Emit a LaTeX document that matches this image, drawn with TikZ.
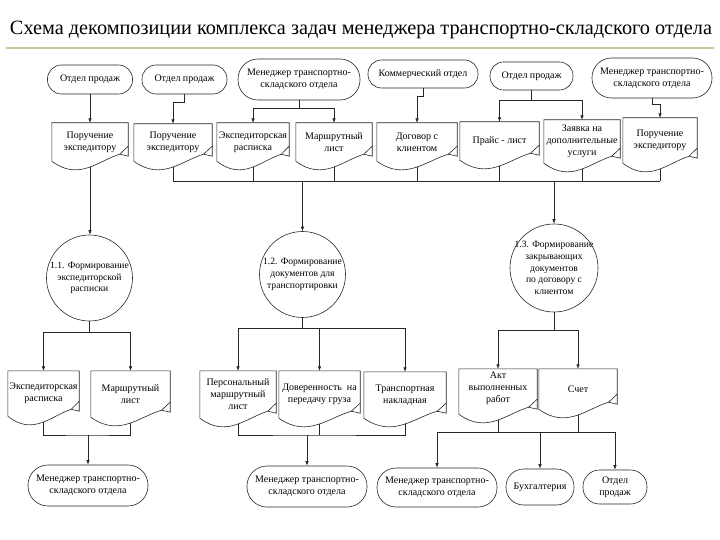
\documentclass[tikz,border=0pt]{standalone}
\usepackage{fontspec}
\usepackage{graphicx}
\setmainfont{Liberation Serif}
\usetikzlibrary{arrows.meta,calc}
\pgfdeclarelayer{background}
\pgfsetlayers{background,main}
\definecolor{rulegreen}{RGB}{196,204,160}
\newcommand{\docshape}[1]{%
  \path[docline] (#1.north west) -- (#1.south west)
    .. controls ($(#1.south west)!0.35!(#1.south east)+(0,-20pt)$) and ($(#1.south west)!0.6!(#1.south east)$)
    .. ($(#1.south west)!0.89!(#1.south east)+(0,7pt)$) coordinate (#1-p)
    -- ($(#1.south east)+(0,5pt)$) -- (#1.north east) -- cycle;
  \draw[ln] ($(#1.south east)+(0,15pt)$) -- (#1-p);
}
\begin{document}
\begin{tikzpicture}[x=1pt,y=-1pt,
  every node/.style={font=\fontsize{10}{12}\selectfont},
  ln/.style={draw=black!85, line width=0.6pt},
  docline/.style={draw=black!85, line width=0.6pt, fill=white},
  arr/.style={ln, -{Latex[length=4.5pt,width=3.5pt]}},
  term/.style n args={3}{draw=black!85, line width=0.6pt, rectangle, rounded corners=#3pt,
     minimum width=#1pt, minimum height=#2pt, inner sep=0pt, align=center, fill=white},
  docn/.style 2 args={minimum width=#1pt, minimum height=#2pt, inner sep=0pt, align=center},
  proc/.style={circle, draw=black!85, line width=0.6pt, minimum size=#1pt, inner sep=0pt},
  ptext/.style={align=center, inner sep=0pt, font=\fontsize{9.6}{11.8}\selectfont}]
\useasboundingbox (0,0) rectangle (720,540);

% title
\node[anchor=base, inner sep=0pt] (title) at (361,35)
  {\resizebox{702pt}{!}{\fontsize{20}{24}\selectfont Схема декомпозиции комплекса задач менеджера транспортно-складского отдела}};
\draw[rulegreen, line width=1.6pt] (6,48) -- (714,48);

% top terminators
\node[term={85}{29}{14}] (T1) at (90,79.5) {Отдел продаж};
\node[term={85}{29}{14}] (T2) at (184.5,79.5) {Отдел продаж};
\node[term={122}{41}{20}] (T3) at (299,79.5) {Менеджер транспортно-\\складского отдела};
\node[term={110}{28}{13.5}] (T4) at (423,74) {Коммерческий отдел};
\node[term={83}{28}{13.5}] (T5) at (531.5,76) {Отдел продаж};
\node[term={120}{40}{19.5}] (T6) at (652,78) {Менеджер транспортно-\\складского отдела};

% top documents
\node[docn={76}{38}] (D1) at (90,142) {Поручение\\экспедитору};
\node[docn={78}{37}] (D2) at (173,142.5) {Поручение\\экспедитору};
\node[docn={72}{38}] (D3) at (253,142) {Экспедиторская\\расписка};
\node[docn={76}{38}] (D4) at (334,142) {Маршрутный\\лист};
\node[docn={80}{38}] (D5) at (417,142) {Договор с\\клиентом};
\node[docn={79}{38}] (D6) at (499.5,141) {Прайс - лист};
\node[docn={76}{43}] (D7) at (582,141.5) {Заявка на\\дополнительные\\услуги};
\node[docn={74}{45}] (D8) at (660,140.5) {Поручение\\экспедитору};

% processes
\node[proc=86] (C1) at (89.5,278) {};
\node[ptext] (C1t) at (C1) {1.1. Формирование\\экспедиторской\\расписки};
\node[proc=86] (C2) at (302.5,274.5) {};
\node[ptext] (C2t) at (C2) {1.2. Формирование\\документов для\\транспортировки};
\node[proc=88] (C3) at (554,268) {};
\node[ptext] (C3t) at (C3) {1.3. Формирование\\закрывающих\\документов\\по договору с\\клиентом};

% lower documents
\node[docn={71}{45}] (D9) at (43.5,393.5) {Экспедиторская\\расписка};
\node[docn={79}{46}] (D10) at (130.5,394) {Маршрутный\\лист};
\node[docn={76}{47}] (D11) at (238,394.5) {Персональный\\маршрутный\\лист};
\node[docn={81}{47}] (D12) at (319.5,394.5) {Доверенность\ \ на\\передачу груза};
\node[docn={82}{46}] (D13) at (405,395) {Транспортная\\накладная};
\node[docn={78}{45}] (D14) at (498,391.5) {};
\node[align=center, inner sep=0pt] (D14t) at (498,388) {Акт\\выполненных\\работ};
\node[docn={78}{40}] (D15) at (578,389) {Счет};

% bottom terminators
\node[term={120}{41}{20}] (T7) at (88,485.5) {Менеджер транспортно-\\складского отдела};
\node[term={120}{41}{20}] (T8) at (307,486.5) {Менеджер транспортно-\\складского отдела};
\node[term={120}{39}{19}] (T9) at (437,487.5) {Менеджер транспортно-\\складского отдела};
\node[term={68}{36}{17.5}] (B) at (540,487) {Бухгалтерия};
\node[term={64}{34}{16.5}] (O) at (615,487) {Отдел\\продаж};

\coordinate (bus) at (0,181);
\coordinate (b1) at (88,435);
\coordinate (b2) at (307,435);
\coordinate (b3) at (437,432);

% connectors hidden behind documents, then the document shapes
\begin{pgfonlayer}{background}
  \draw[arr] (D1.center) -- (D1.center |- C1.north);
  \foreach \d in {D2,D3,D4,D5,D6,D7,D8} { \draw[ln] (\d.center) -- (\d.center |- bus); }
  \draw[ln] (D2.center |- bus) -- (D8.center |- bus);
  \draw[ln] (D9.center) |- (b1) -| (D10.center);
  \draw[ln] (D11.center) |- (b2) -| (D13.center);
  \draw[ln] (D12.center) -- (D12.center |- b2);
  \draw[ln] (D14.center) -- (D14.center |- b3);
  \draw[ln] (D15.center) -- (D15.center |- b3);
  \draw[ln] (b3) -- (O.north |- b3);
  \foreach \d in {D1,D2,D3,D4,D5,D6,D7,D8,D9,D10,D11,D12,D13,D14,D15} { \docshape{\d} }
\end{pgfonlayer}

% top arrows
\draw[arr] (T1.south) -- (D1.north);
\draw[arr] (T2.south) -- ++(0,8) -| (D2.north);
\draw[ln] (T3.south) -- ++(0,8) coordinate (t3s);
\draw[arr] (t3s) -| (D3.north);
\draw[arr] (t3s) -| (D4.north);
\draw[arr] (T4.south) -- ++(0,8) -| (D5.north);
\draw[ln] (T5.south) -- ++(0,10) coordinate (t5s);
\draw[arr] (t5s) -| (D6.north);
\draw[arr] (t5s) -| (D7.north);
\draw[arr] (T6.south) -- ++(0,6) -| (D8.north);

% to processes
\draw[arr] (C2.north |- bus) -- (C2.north);
\draw[arr] (C3.north |- bus) -- (C3.north);

% from processes
\draw[ln] (C1.south) -- ++(0,11) coordinate (c1s);
\draw[arr] (c1s) -| (D9.north);
\draw[arr] (c1s) -| (D10.north);
\draw[ln] (C2.south) -- ++(0,10) coordinate (c2s);
\draw[arr] (c2s) -| (D11.north);
\draw[arr] (c2s) -| (D12.north);
\draw[arr] (c2s) -| (D13.north);
\draw[ln] (C3.south) -- ++(0,18) coordinate (c3s);
\draw[arr] (c3s) -| (D14.north);
\draw[arr] (c3s) -| (D15.north);

% to bottom terminators
\draw[arr] (b1) -- (T7.north);
\draw[arr] (b2) -- (T8.north);
\draw[arr] (b3) -- (T9.north);
\draw[arr] (B.north |- b3) -- (B.north);
\draw[arr] (O.north |- b3) -- (O.north);
\end{tikzpicture}
\end{document}
